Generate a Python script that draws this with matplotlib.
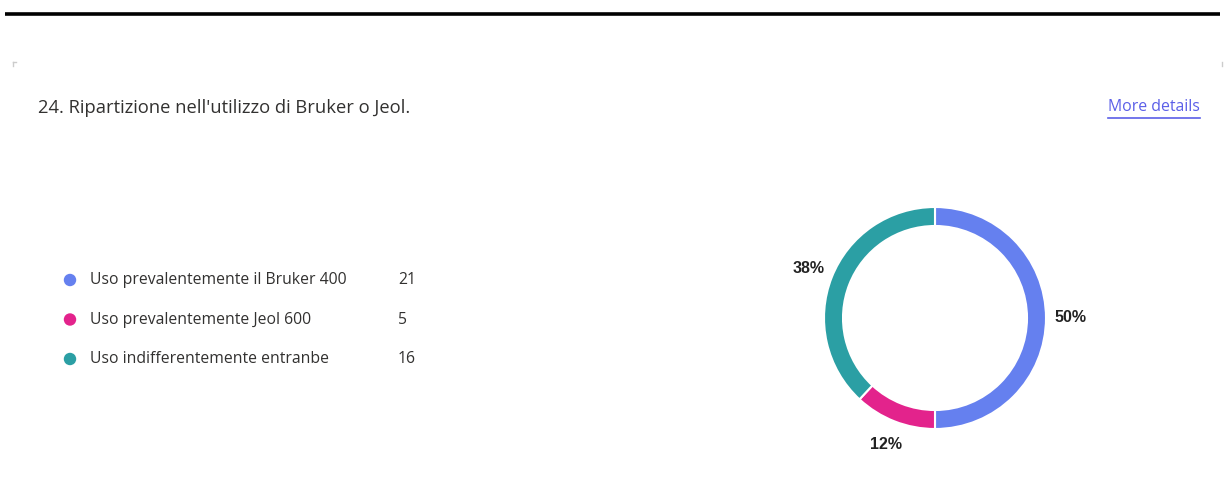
import matplotlib
matplotlib.use('Agg')
import matplotlib.pyplot as plt

# Survey answers
labels = ['Uso prevalentemente il Bruker 400', 'Uso prevalentemente Jeol 600',
          'Uso indifferentemente entranbe']
counts = [21, 5, 16]
colors = ['#6580EF', '#E3238C', '#2B9FA4']
title = "24. Ripartizione nell'utilizzo di Bruker o Jeol."
link = 'More details'

W, H = 1225, 497
fig = plt.figure(figsize=(W / 100, H / 100), dpi=100)
fig.patch.set_facecolor('white')

# overlay axes in pixel coordinates (y downwards)
ax = fig.add_axes([0, 0, 1, 1])
ax.set_xlim(0, W)
ax.set_ylim(H, 0)
ax.axis('off')

ax.plot([5, 1220], [14, 14], color='black', lw=2.6, solid_capstyle='butt')
ax.plot([13, 13], [62, 66], color='#cccccc', lw=1)
ax.plot([13, 16], [62, 62], color='#cccccc', lw=1)
ax.plot([1222, 1222], [62, 66], color='#cccccc', lw=1)

font = 'Open Sans'
ax.text(38, 108, title, fontsize=13.2, color='#323130', family=font,
        va='center', ha='left')
ax.text(1200, 107, link, fontsize=11.4, color='#5b5fe8', family=font,
        va='center', ha='right')
ax.plot([1108, 1200], [118, 118], color='#5b5fe8', lw=1.2)

for i, (lab, c, col) in enumerate(zip(labels, counts, colors)):
    y = 280 + i * 39.5
    ax.scatter([70], [y], s=80, color=col, edgecolors='none')
    ax.text(90, y, lab, fontsize=11.3, color='#323130', family=font,
            va='center', ha='left')
    ax.text(398, y, str(c), fontsize=11.3, color='#323130', family=font,
            va='center', ha='left')

# donut
cx, cy, r = 935, 318, 111
pax = fig.add_axes([(cx - r) / W, (H - cy - r) / H, 2 * r / W, 2 * r / H])
wedges, texts, autotexts = pax.pie(
    counts, colors=colors, startangle=90, counterclock=False,
    autopct='%.0f%%', pctdistance=1.22,
    wedgeprops=dict(width=19 / r, edgecolor='white', linewidth=1.5))
for t in autotexts:
    t.set_fontsize(11.5)
    t.set_fontweight('bold')
    t.set_family('Liberation Sans')
    t.set_color('#222222')
pax.set_aspect('equal')
pax.set_xlim(-1, 1)
pax.set_ylim(-1, 1)

fig.savefig('out.png', dpi=100, facecolor='white')
